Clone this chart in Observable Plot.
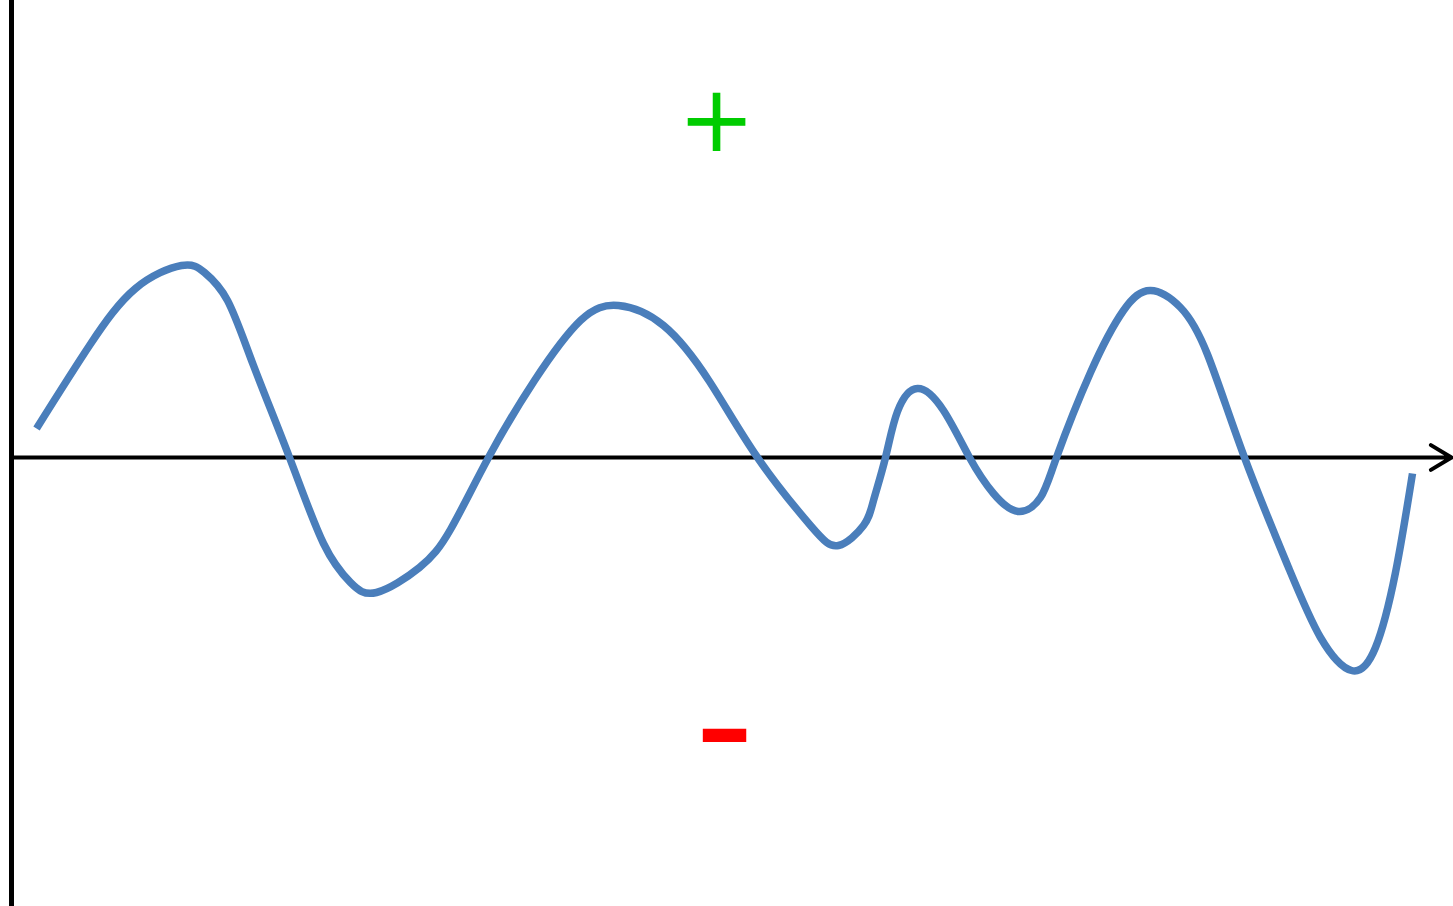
<!DOCTYPE html>
<html>
<head>
<meta charset="utf-8">
<script src="https://cdn.jsdelivr.net/npm/d3@7"></script>
<script src="https://cdn.jsdelivr.net/npm/@observablehq/plot@0.6"></script>
<style>
  html, body { margin: 0; padding: 0; background: #fff; overflow: hidden; }
  #chart svg { display: block; }
</style>
</head>
<body>
<div id="chart"></div>
<script>
// Wave: position along the axis and signed level
const waveX = [36, 89, 135, 181, 204, 227, 253, 289, 323, 350, 376, 419, 450, 488, 534, 580, 618, 663, 709, 757, 810, 838, 863, 873, 885, 897, 917, 943, 969, 993, 1018, 1040, 1056, 1090, 1123, 1150, 1180, 1207, 1244, 1288, 1320, 1351, 1375, 1395, 1412];
const waveY = [29, 112, 169, 192, 185, 157, 92, 0, -86, -125, -135, -110, -72, 0, 77, 137, 152, 132, 76, 0, -68, -88, -68, -43, 0, 46, 69, 47, 0, -36, -54, -40, 0, 85, 147, 167, 150, 103, 0, -110, -180, -213, -190, -115, -16];

// Sign annotations
const signLabels = ["+", "-"];
const signX = [716, 724];
const signY = [334, -277];

const wave = waveX.map((x, i) => ({x, y: waveY[i]}));
const signs = signLabels.map((label, i) => ({label, x: signX[i], y: signY[i]}));

const W = 1453, H = 906;
const chart = Plot.plot({
  width: W,
  height: H,
  margin: 0,
  x: {domain: [0, W], axis: null},
  y: {domain: [-449, 457], axis: null},
  marks: [
    Plot.ruleX([11], {y1: -449, y2: 457, stroke: "#000", strokeWidth: 5}),
    Plot.arrow([{x1: 11, x2: 1451, y: 0}], {x1: "x1", x2: "x2", y1: "y", y2: "y", stroke: "#000", strokeWidth: 4, headLength: 9, headAngle: 62}),
    Plot.line(wave, {x: "x", y: "y", stroke: "#4A7EBB", strokeWidth: 7.5, curve: "natural", strokeLinecap: "butt"}),
    Plot.text(signs.slice(0, 1), {x: "x", y: "y", text: "label", fill: "#00CC00", fontSize: 92, fontFamily: "DejaVu Sans", dy: -2}),
    Plot.text(signs.slice(1), {x: "x", y: "y", text: "label", fill: "#FF0000", fontSize: 165, fontFamily: "DejaVu Sans", dy: -6})
  ]
});
document.getElementById("chart").appendChild(chart);
</script>
</body>
</html>
